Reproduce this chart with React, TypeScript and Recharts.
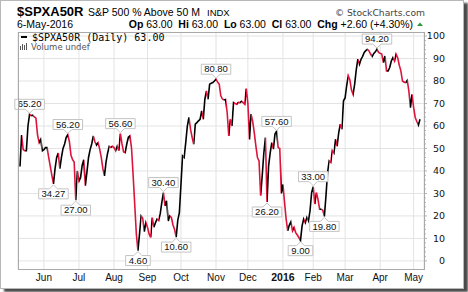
import { LineChart, Line, XAxis, YAxis, CartesianGrid, ReferenceDot } from 'recharts';

// daily readings, one array per month (trading days)
const may15 = [42, 56, 49.5, 49, 49, 60, 65.2, 64.6, 64.8, 64, 63.5, 56, 52.6, 54, 49];
const jun15 = [49.5, 50.4, 50.4, 46, 42, 38, 34.27, 41, 46, 48, 41, 46, 50, 52, 55, 56.2, 53, 47, 45, 44, 27, 40];
const jul15 = [35.5, 37, 42.5, 45, 33.5, 39.5, 46, 49.5, 52, 55.6, 53, 51.5, 52.6, 49.7, 46, 41, 37.8, 44, 48, 51, 50.5, 51];
const aug15 = [50.4, 49, 51, 49, 56.6, 52, 48.5, 48.2, 52, 55, 55.6, 50, 38, 25, 12, 4.6, 12, 20, 19, 13, 17];
const sep15 = [15, 12, 10.4, 19.3, 15, 17, 18.6, 18, 21, 26, 30.4, 24.5, 26.7, 17.8, 20, 19.3, 16, 14, 10.6, 18, 21.5];
const oct15 = [34, 46.7, 46, 52.6, 60, 63.8, 58.6, 55, 51.9, 60.8, 61.5, 62.3, 63, 66.7, 63, 71.9, 75.6, 71.9, 78.6, 79, 79.3, 80];
const nov15 = [80.8, 79.5, 78.6, 73.4, 72, 71.6, 71.8, 66, 55.6, 63, 60, 70.4, 70, 69.7, 70.5, 70.4, 71, 70.4, 69.7, 76.6];
const dec15 = [70, 54, 65.3, 62, 57, 51.2, 46, 44.5, 29, 38, 48, 54.9, 26.2, 42.3, 48, 52.6, 49.7, 56.4, 57.6, 50.4, 50, 30];
const jan16 = [34, 26, 18.6, 13.4, 16, 17.4, 13.4, 14.9, 12.6, 11.5, 10.4, 9.0, 15.6, 18.6, 17, 19.3, 17.8, 22.3, 30.4];
const feb16 = [33, 25.3, 30.4, 27.4, 23, 23, 22.5, 19.8, 29, 39.3, 44.5, 43.8, 49, 48, 54.1, 51, 57.1, 60.8, 58.6, 71.2];
const mar16 = [72.5, 78, 82.3, 80.5, 76, 74.1, 78.6, 85, 89.7, 87.4, 89.7, 91, 92.7, 93.5, 94.1, 93.4, 92, 90.9, 92.3, 93, 94.2, 92.7];
const apr16 = [92.3, 92, 88.2, 91.1, 84.5, 84.5, 86, 88.9, 90.4, 88.9, 91.9, 90.4, 87, 84.5, 80, 79.5, 79.3, 80.3, 75.6, 68.2, 74.1];
const may16 = [68.2, 63.8, 62, 60.4, 63];

const months = [may15, jun15, jul15, aug15, sep15, oct15, nov15, dec15, jan16, feb16, mar16, apr16, may16];
const monthLabels = ['Jun', 'Jul', 'Aug', 'Sep', 'Oct', 'Nov', 'Dec', '2016', 'Feb', 'Mar', 'Apr', 'May'];

// labelled highs and lows
const peakValues = [65.2, 56.2, 56.6, 30.4, 80.8, 57.6, 33, 94.2];
const troughValues = [34.27, 27, 4.6, 10.6, 26.2, 9, 19.8];

const yTicks = Array.from({ length: 51 }, (_, k) => k * 2);
const yGrid = [0, 10, 20, 30, 40, 50, 60, 70, 80, 90, 100];

const values = months.flat();
const rows = values.map((v, i) => ({ i, v }));
const monthStarts = months
    .slice(1)
    .map((_, k) => months.slice(0, k + 1).reduce((s, m) => s + m.length, 0));

const last = values[values.length - 1];
const prev = values[values.length - 2];
const chg = last - prev;
const pct = (chg / prev) * 100;

const W = 468;
const H = 292;
const PLOT = { left: 18, top: 32, right: 424, bottom: 269 };
const Y_AXIS_W = 30;
const X_AXIS_H = 20;

const BLACK = '#000000';
const RED = '#dc143c';
const GRID = '#e3e3e3';
const BORDER = '#a9a9a9';
const SANS = '"Liberation Sans", Arial, sans-serif';
const VERD = '"DejaVu Sans", Verdana, sans-serif';

const stops = values.slice(1).flatMap((v, k) => {
    const c = v >= values[k] ? BLACK : RED;
    const n = values.length - 1;
    return [
        { off: (k / n) * 100, c },
        { off: ((k + 1) / n) * 100, c },
    ];
});

const XTick = ({ x, y, payload }: any) => {
    const label = monthLabels[monthStarts.indexOf(payload.value)];
    const bold = label === '2016';
    return (
        <text
            x={x}
            y={y + 12}
            textAnchor="middle"
            fontFamily={SANS}
            fontSize={bold ? 10.5 : 10}
            fontWeight={bold ? 'bold' : 'normal'}
            fill="#111"
        >
            {label}
        </text>
    );
};

const YTick = ({ x, y, payload }: any) => {
    const v = payload.value;
    const major = v % 10 === 0;
    return (
        <g>
            <line x1={x} x2={x + (major ? 3 : 2)} y1={y} y2={y} stroke="#b5b5b5" />
            {major && (
                <text x={x + 21} y={y} dy="0.36em" textAnchor="end" fontFamily={VERD} fontSize={9.5} fill="#111">
                    {v}
                </text>
            )}
        </g>
    );
};

const Callout = ({ cx, cy, text, up }: any) => {
    const w = text.length * 4.9 + 5;
    const h = 10;
    const gap = 5;
    const l = cx - w / 2;
    const r = cx + w / 2;
    let d: string;
    let ty: number;
    if (up) {
        const b = cy - gap;
        const t = b - h;
        d = `M${l},${t} H${r} V${b} H${cx + 4} L${cx},${cy - 1} L${cx - 4},${b} H${l} Z`;
        ty = b - 1.8;
    } else {
        const t = cy + gap;
        const b = t + h;
        d = `M${l},${t} H${cx - 4} L${cx},${cy + 1} L${cx + 4},${t} H${r} V${b} H${l} Z`;
        ty = b - 1.8;
    }
    return (
        <g>
            <path d={d} fill="#fff" stroke="#c4c4c4" strokeWidth={1} />
            <text x={cx} y={ty} textAnchor="middle" fontFamily={SANS} fontSize={9.5} fill="#111">
                {text}
            </text>
        </g>
    );
};

const callouts = [
    ...peakValues.map((v) => ({ idx: values.indexOf(v), v, up: true })),
    ...troughValues.map((v) => ({ idx: values.indexOf(v), v, up: false })),
];

export default function App() {
    return (
        <div style={{ position: 'absolute', left: 0, top: 0, width: W, height: H, background: '#fff' }}>
            <div
                style={{
                    position: 'absolute',
                    left: 0,
                    top: 0,
                    width: 464,
                    height: 289,
                    boxSizing: 'border-box',
                    border: '1px solid #b8b8b8',
                    boxShadow: '4px 3px 2px #4a4a4a',
                    background: '#fff',
                }}
            />
            <div style={{ position: 'absolute', left: 0, top: 0 }}>
                <LineChart
                    width={W}
                    height={H}
                    data={rows}
                    margin={{
                        top: PLOT.top,
                        left: PLOT.left,
                        right: W - PLOT.right - Y_AXIS_W,
                        bottom: H - PLOT.bottom - X_AXIS_H,
                    }}
                >
                    <defs>
                        <linearGradient id="updown" x1="0" y1="0" x2="1" y2="0">
                            {stops.map((s, k) => (
                                <stop key={k} offset={`${s.off}%`} stopColor={s.c} />
                            ))}
                        </linearGradient>
                    </defs>
                    <CartesianGrid stroke={GRID} horizontalValues={yGrid} />
                    <XAxis
                        dataKey="i"
                        type="category"
                        ticks={monthStarts}
                        interval={0}
                        height={X_AXIS_H}
                        padding={{ left: 2, right: 4 }}
                        axisLine={false}
                        tickLine={false}
                        tickSize={0}
                        tickMargin={0}
                        tick={<XTick />}
                    />
                    <YAxis
                        orientation="right"
                        width={Y_AXIS_W}
                        domain={[-3.6, 101.8]}
                        allowDataOverflow
                        ticks={yTicks}
                        interval={0}
                        axisLine={false}
                        tickLine={false}
                        tickSize={0}
                        tickMargin={0}
                        tick={<YTick />}
                    />
                    <Line
                        type="linear"
                        dataKey="v"
                        stroke="url(#updown)"
                        strokeWidth={1.6}
                        dot={false}
                        activeDot={false}
                        isAnimationActive={false}
                    />
                    {callouts.map((c) => (
                        <ReferenceDot
                            key={c.idx}
                            x={c.idx}
                            y={c.v}
                            r={0}
                            ifOverflow="visible"
                            shape={(p: any) => <Callout cx={p.cx} cy={p.cy} text={c.v.toFixed(2)} up={c.up} />}
                        />
                    ))}
                </LineChart>
            </div>
            <svg
                width={W}
                height={H}
                style={{ position: 'absolute', left: 0, top: 0, pointerEvents: 'none' }}
                fontFamily={SANS}
            >
                <rect
                    x={PLOT.left + 0.5}
                    y={PLOT.top + 0.5}
                    width={PLOT.right - PLOT.left}
                    height={PLOT.bottom - PLOT.top}
                    fill="none"
                    stroke={BORDER}
                />
                <text x={17} y={16} fontSize={13} fontWeight="bold" fill="#000">
                    $SPXA50R
                </text>
                <text x={88} y={15.5} fontSize={10.5} fill="#000">
                    S&amp;P 500 % Above 50 M
                </text>
                <text x={207} y={15.5} fontSize={9.5} fill="#000">
                    INDX
                </text>
                <text x={425} y={15.5} textAnchor="end" fontFamily={VERD} fontSize={9.2} fill="#444">
                    © StockCharts.com
                </text>
                <text x={17} y={28} fontSize={10.5} fill="#000">
                    6-May-2016
                </text>
                <text x={413} y={28} textAnchor="end" fontSize={10.5} fill="#000" style={{ whiteSpace: 'pre' }}>
                    <tspan fontWeight="bold">Op</tspan>
                    <tspan>{` ${last.toFixed(2)}  `}</tspan>
                    <tspan fontWeight="bold">Hi</tspan>
                    <tspan>{` ${last.toFixed(2)}  `}</tspan>
                    <tspan fontWeight="bold">Lo</tspan>
                    <tspan>{` ${last.toFixed(2)}  `}</tspan>
                    <tspan fontWeight="bold">Cl</tspan>
                    <tspan>{` ${last.toFixed(2)}  `}</tspan>
                    <tspan fontWeight="bold">Chg</tspan>
                    <tspan>{` +${chg.toFixed(2)} (+${pct.toFixed(2)}%)`}</tspan>
                </text>
                <path d="M417,26 L420,22.5 L423,26 Z" fill="#2e9b3a" />
                <rect x={21} y={36} width={6} height={2} fill="#000" />
                <text x={32} y={41} fontFamily='"DejaVu Sans Mono", monospace' fontSize={10} fill="#000">
                    {`$SPXA50R (Daily) ${last.toFixed(2)}`}
                </text>
                <rect x={20} y={46} width={1} height={4} fill="#555" />
                <rect x={22} y={44} width={1} height={6} fill="#555" />
                <rect x={24} y={45} width={1} height={5} fill="#555" />
                <rect x={26} y={43} width={1} height={7} fill="#555" />
                <text x={31} y={50} fontFamily={VERD} fontSize={8.5} fill="#555">
                    Volume undef
                </text>
            </svg>
        </div>
    );
}
